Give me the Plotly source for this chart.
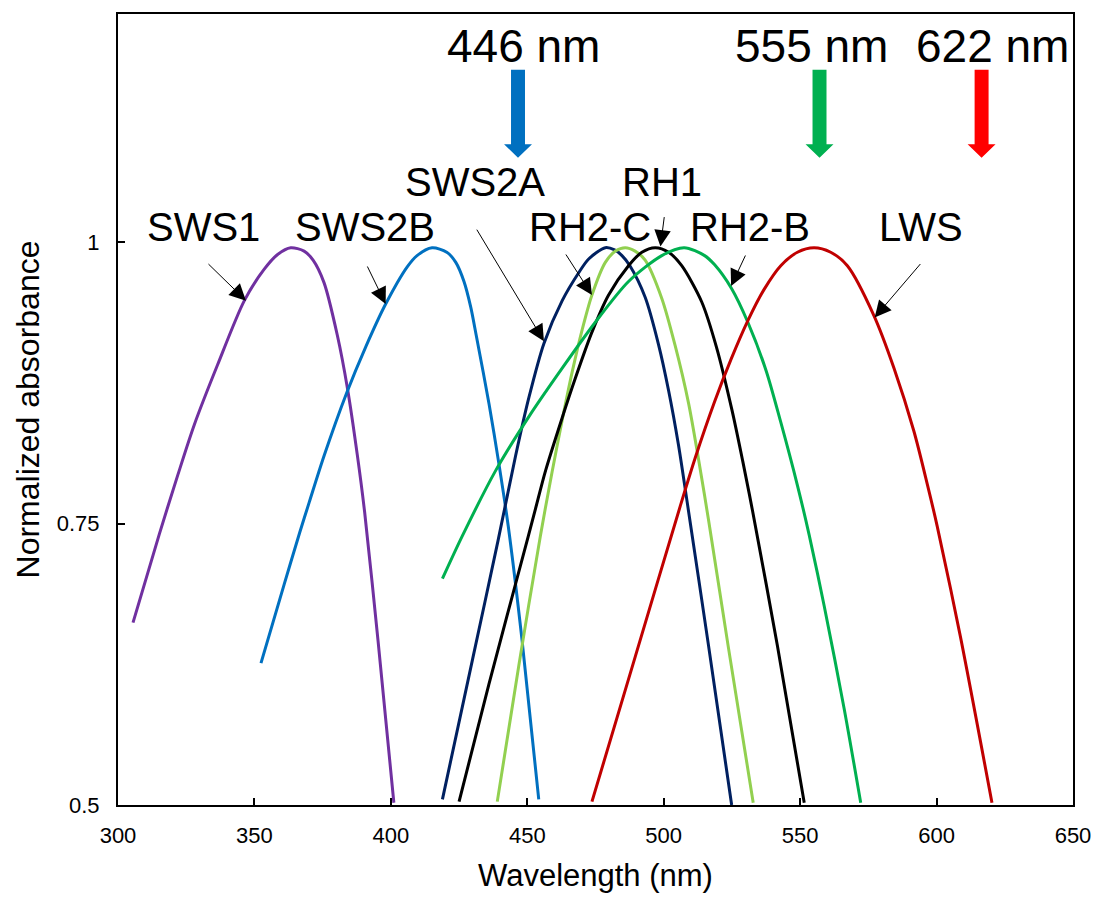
import plotly.graph_objects as go

# ---- data (wavelength nm, normalized absorbance) ----
sws1_x = [305.5, 315.2, 321.9, 328.0, 336.5, 346.3, 353.6, 358.5, 363.3, 368.2, 371.5, 375.5, 380.4, 384.1, 387.7, 390.4, 395.3, 401.1]
sws1_y = [0.662, 0.741, 0.793, 0.838, 0.891, 0.948, 0.976, 0.989, 0.995, 0.992, 0.984, 0.964, 0.917, 0.870, 0.811, 0.760, 0.646, 0.502]

sws2b_x = [352.4, 360.9, 366.6, 370.1, 375.5, 383.8, 390.8, 398.1, 406.0, 409.6, 415.1, 420.5, 423.8, 426.8, 429.3, 431.3, 436.0, 439.6, 443.0, 448.1, 454.2]
sws2b_y = [0.626, 0.696, 0.742, 0.769, 0.810, 0.866, 0.907, 0.945, 0.978, 0.988, 0.995, 0.991, 0.982, 0.965, 0.942, 0.917, 0.856, 0.803, 0.748, 0.646, 0.505]

sws2a_x = [418.9, 430.0, 439.3, 445.7, 450.6, 456.1, 462.8, 468.9, 472.5, 478.6, 482.0, 484.7, 487.6, 493.2, 498.1, 501.8, 505.4, 508.6, 516.4, 524.9]
sws2a_y = [0.505, 0.630, 0.735, 0.810, 0.862, 0.910, 0.948, 0.973, 0.985, 0.995, 0.993, 0.988, 0.979, 0.951, 0.909, 0.868, 0.820, 0.769, 0.642, 0.500]

rh2c_x = [439.0, 446.9, 454.8, 459.1, 462.8, 466.4, 470.1, 473.7, 478.6, 482.3, 485.9, 489.5, 493.2, 499.3, 504.2, 509.1, 512.7, 516.5, 523.7, 532.8]
rh2c_y = [0.503, 0.624, 0.739, 0.796, 0.842, 0.884, 0.922, 0.953, 0.982, 0.992, 0.995, 0.992, 0.984, 0.950, 0.908, 0.857, 0.808, 0.752, 0.640, 0.502]

rh1_x = [425.0, 435.9, 450.4, 453.0, 456.7, 462.8, 467.6, 473.7, 479.8, 487.1, 492.0, 496.9, 501.8, 506.6, 513.9, 519.3, 525.0, 529.0, 532.5, 541.7, 551.5]
rh1_y = [0.503, 0.607, 0.739, 0.763, 0.797, 0.844, 0.879, 0.920, 0.953, 0.979, 0.991, 0.995, 0.991, 0.979, 0.947, 0.907, 0.851, 0.805, 0.762, 0.641, 0.502]

rh2b_x = [418.9, 426.2, 438.4, 450.6, 462.8, 475.0, 487.1, 499.3, 507.5, 515.0, 518.6, 524.8, 530.8, 537.5, 542.9, 549.0, 553.3, 558.8, 566.1, 572.2]
rh2b_y = [0.701, 0.739, 0.797, 0.845, 0.888, 0.929, 0.965, 0.988, 0.995, 0.988, 0.980, 0.959, 0.929, 0.886, 0.840, 0.784, 0.740, 0.677, 0.586, 0.502]

lws_x = [473.7, 489.6, 506.0, 511.5, 518.6, 524.7, 530.8, 536.8, 542.9, 549.0, 555.1, 561.2, 567.3, 577.0, 584.4, 591.7, 596.5, 600.2, 608.7, 620.3]
lws_y = [0.503, 0.632, 0.765, 0.808, 0.858, 0.896, 0.930, 0.958, 0.979, 0.991, 0.995, 0.991, 0.979, 0.935, 0.888, 0.832, 0.786, 0.748, 0.650, 0.502]

series_names = ["SWS1", "SWS2B", "SWS2A", "RH2-C", "RH1", "RH2-B", "LWS"]
series_x = [sws1_x, sws2b_x, sws2a_x, rh2c_x, rh1_x, rh2b_x, lws_x]
series_y = [sws1_y, sws2b_y, sws2a_y, rh2c_y, rh1_y, rh2b_y, lws_y]
series_colors = ["#7030A0", "#0070C0", "#002060", "#92D050", "#000000", "#00B050", "#C00000"]

# curve labels: text position and arrow tip / tail offsets (pixels)
label_x = [331.4, 390.6, 430.8, 472.9, 499.2, 531.7, 594.2]
label_y = [1.0138, 1.0138, 1.0534, 1.0138, 1.053, 1.0133, 1.0133]
tip_x = [346.9, 398.1, 456.1, 473.7, 498.8, 524.7, 577.3]
tip_y = [0.948, 0.945, 0.912, 0.953, 0.996, 0.961, 0.933]
tail_dx = [-39, -19, -68, -27, 4, 15, 47]
tail_dy = [-38, -39, -113, -42, -31, -32, -55]

# wavelength markers at top
marker_text = ["446 nm", "555 nm", "622 nm"]
marker_text_x = [448.6, 554.2, 620.4]
marker_arrow_x = [446.6, 557.1, 616.5]
marker_colors = ["#0070C0", "#00B050", "#FF0000"]

x_ticks = [300, 350, 400, 450, 500, 550, 600, 650]
y_ticks = [0.5, 0.75, 1]
y_tick_text = ["0.5", "0.75", "1"]

FONT = "Arial, Liberation Sans, sans-serif"

fig = go.Figure()
for name, xs, ys, c in zip(series_names, series_x, series_y, series_colors):
    fig.add_trace(go.Scatter(x=xs, y=ys, mode="lines", name=name,
                             line=dict(color=c, width=3, shape="spline", smoothing=0.8),
                             showlegend=False, hoverinfo="skip"))

annotations = []
for name, lx, ly, tx, ty, dx, dy in zip(series_names, label_x, label_y, tip_x, tip_y, tail_dx, tail_dy):
    annotations.append(dict(x=lx, y=ly, xref="x", yref="y", text=name, showarrow=False,
                            font=dict(family=FONT, size=40, color="black"),
                            xanchor="center", yanchor="middle"))
    annotations.append(dict(x=tx, y=ty, xref="x", yref="y", text="", showarrow=True,
                            ax=dx, ay=dy, arrowhead=2, arrowsize=3.3, arrowwidth=1,
                            arrowcolor="black", standoff=0))
for t, tx in zip(marker_text, marker_text_x):
    annotations.append(dict(x=tx, y=1.1743, xref="x", yref="y", text=t, showarrow=False,
                            font=dict(family=FONT, size=46, color="black"),
                            xanchor="center", yanchor="middle"))

# block arrows
shaft_top, head_base, head_tip = 1.153, 1.087, 1.075
shaft_half, head_half = 2.56, 5.12
shapes = []
for ax_, c in zip(marker_arrow_x, marker_colors):
    path = (f"M {ax_-shaft_half},{shaft_top} L {ax_+shaft_half},{shaft_top} "
            f"L {ax_+shaft_half},{head_base} L {ax_+head_half},{head_base} "
            f"L {ax_},{head_tip} L {ax_-head_half},{head_base} "
            f"L {ax_-shaft_half},{head_base} Z")
    shapes.append(dict(type="path", path=path, xref="x", yref="y",
                       fillcolor=c, line=dict(width=0)))

fig.update_layout(
    width=1103, height=899,
    margin=dict(l=118, r=27, t=12, b=91),
    paper_bgcolor="white", plot_bgcolor="white",
    font=dict(family=FONT, color="black"),
    annotations=annotations, shapes=shapes,
)
fig.update_xaxes(range=[300, 650], tickvals=x_ticks, ticks="inside", ticklen=7,
                 tickwidth=1.5, tickcolor="black", showline=True, linecolor="black",
                 linewidth=2, mirror=True, showgrid=False, zeroline=False,
                 tickfont=dict(family=FONT, size=22, color="black"),
                 ticklabelstandoff=10,
                 title=dict(text="Wavelength (nm)", font=dict(family=FONT, size=31), standoff=17))
fig.update_yaxes(range=[0.5, 1.2026], tickvals=y_ticks, ticktext=y_tick_text, ticks="inside",
                 ticklen=7, tickwidth=1.5, tickcolor="black", showline=True, linecolor="black",
                 linewidth=2, mirror=True, showgrid=False, zeroline=False,
                 tickfont=dict(family=FONT, size=22, color="black"),
                 ticklabelstandoff=12,
                 title=dict(text="Normalized absorbance", font=dict(family=FONT, size=32), standoff=8))

fig.write_html("out.html")
